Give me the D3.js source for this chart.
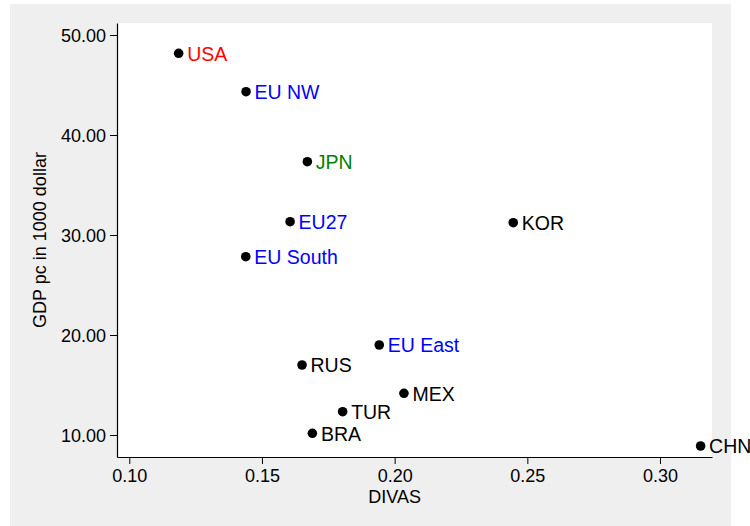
<!DOCTYPE html>
<html>
<head>
<meta charset="utf-8">
<script src="https://cdn.jsdelivr.net/npm/d3@7/dist/d3.min.js"></script>
<style>
  html, body { margin: 0; padding: 0; background: #ffffff; }
  svg { display: block; }
  text { font-family: "Liberation Sans", Arial, sans-serif; }
</style>
</head>
<body>
<svg id="chart" width="750" height="526"></svg>
<script>
// Regions and countries: diversification index vs. GDP per capita
const names  = ["USA", "EU NW", "JPN", "EU27", "EU South", "KOR", "EU East", "RUS", "MEX", "TUR", "BRA", "CHN"];
const divas  = [0.1186, 0.1440, 0.1671, 0.1606, 0.1439, 0.2447, 0.1942, 0.1651, 0.2035, 0.1804, 0.1690, 0.3153];
const gdp    = [48.17, 44.33, 37.33, 31.33, 27.83, 31.23, 19.00, 17.00, 14.17, 12.33, 10.17, 8.90];
const labelColors = ["#ff0000", "#0000ff", "#008000", "#0000ff", "#0000ff", "#000000",
                     "#0000ff", "#000000", "#000000", "#000000", "#000000", "#000000"];
const xTicks = [0.10, 0.15, 0.20, 0.25, 0.30];
const yTicks = [10, 20, 30, 40, 50];

const svg = d3.select("#chart");

// light grey graph region
svg.append("rect")
  .attr("x", 10).attr("y", 4)
  .attr("width", 721).attr("height", 522)
  .attr("fill", "#efefef");

const plot = { left: 117, right: 712, top: 23, bottom: 457 };

// white plot region
svg.append("rect")
  .attr("x", plot.left).attr("y", plot.top)
  .attr("width", plot.right - plot.left).attr("height", plot.bottom - plot.top)
  .attr("fill", "#ffffff");

const x = d3.scaleLinear().domain([0.09537, 0.31959]).range([plot.left, plot.right]);
const y = d3.scaleLinear().domain([7.8, 51.2]).range([plot.bottom, plot.top]);

const xAxis = d3.axisBottom(x).tickValues(xTicks).tickFormat(d3.format(".2f"))
  .tickSizeInner(7).tickSizeOuter(0).tickPadding(5);
const yAxis = d3.axisLeft(y).tickValues(yTicks).tickFormat(d3.format(".2f"))
  .tickSizeInner(7).tickSizeOuter(0).tickPadding(4);

const gx = svg.append("g").attr("transform", `translate(0,${plot.bottom})`).call(xAxis);
const gy = svg.append("g").attr("transform", `translate(${plot.left},0)`).call(yAxis);

[gx, gy].forEach(g => {
  g.select(".domain").attr("stroke", "#000").attr("stroke-width", 1.2);
  g.selectAll(".tick line").attr("stroke", "#000").attr("stroke-width", 1);
  g.selectAll(".tick text").attr("fill", "#000").attr("font-size", 18)
    .style("font-family", "'Liberation Sans', Arial, sans-serif");
});
gy.selectAll(".tick text").attr("dy", "0.34em");

// axis titles
svg.append("text")
  .attr("x", x(0.2)).attr("y", 503)
  .attr("text-anchor", "middle").attr("font-size", 18).attr("fill", "#000")
  .text("DIVAS");

svg.append("text")
  .attr("transform", `translate(46,${(plot.top + plot.bottom) / 2}) rotate(-90)`)
  .attr("text-anchor", "middle").attr("font-size", 18).attr("fill", "#000")
  .text("GDP pc in 1000 dollar");

// markers and their labels
const pts = names.map((n, i) => ({ name: n, x: divas[i], y: gdp[i], color: labelColors[i] }));

svg.append("g").selectAll("circle").data(pts).join("circle")
  .attr("cx", d => x(d.x)).attr("cy", d => y(d.y))
  .attr("r", 4.8).attr("fill", "#000");

svg.append("g").selectAll("text").data(pts).join("text")
  .attr("x", d => x(d.x) + 8.5).attr("y", d => y(d.y))
  .attr("dy", "0.37em")
  .attr("font-size", 19.5).attr("fill", d => d.color)
  .text(d => d.name);
</script>
</body>
</html>
